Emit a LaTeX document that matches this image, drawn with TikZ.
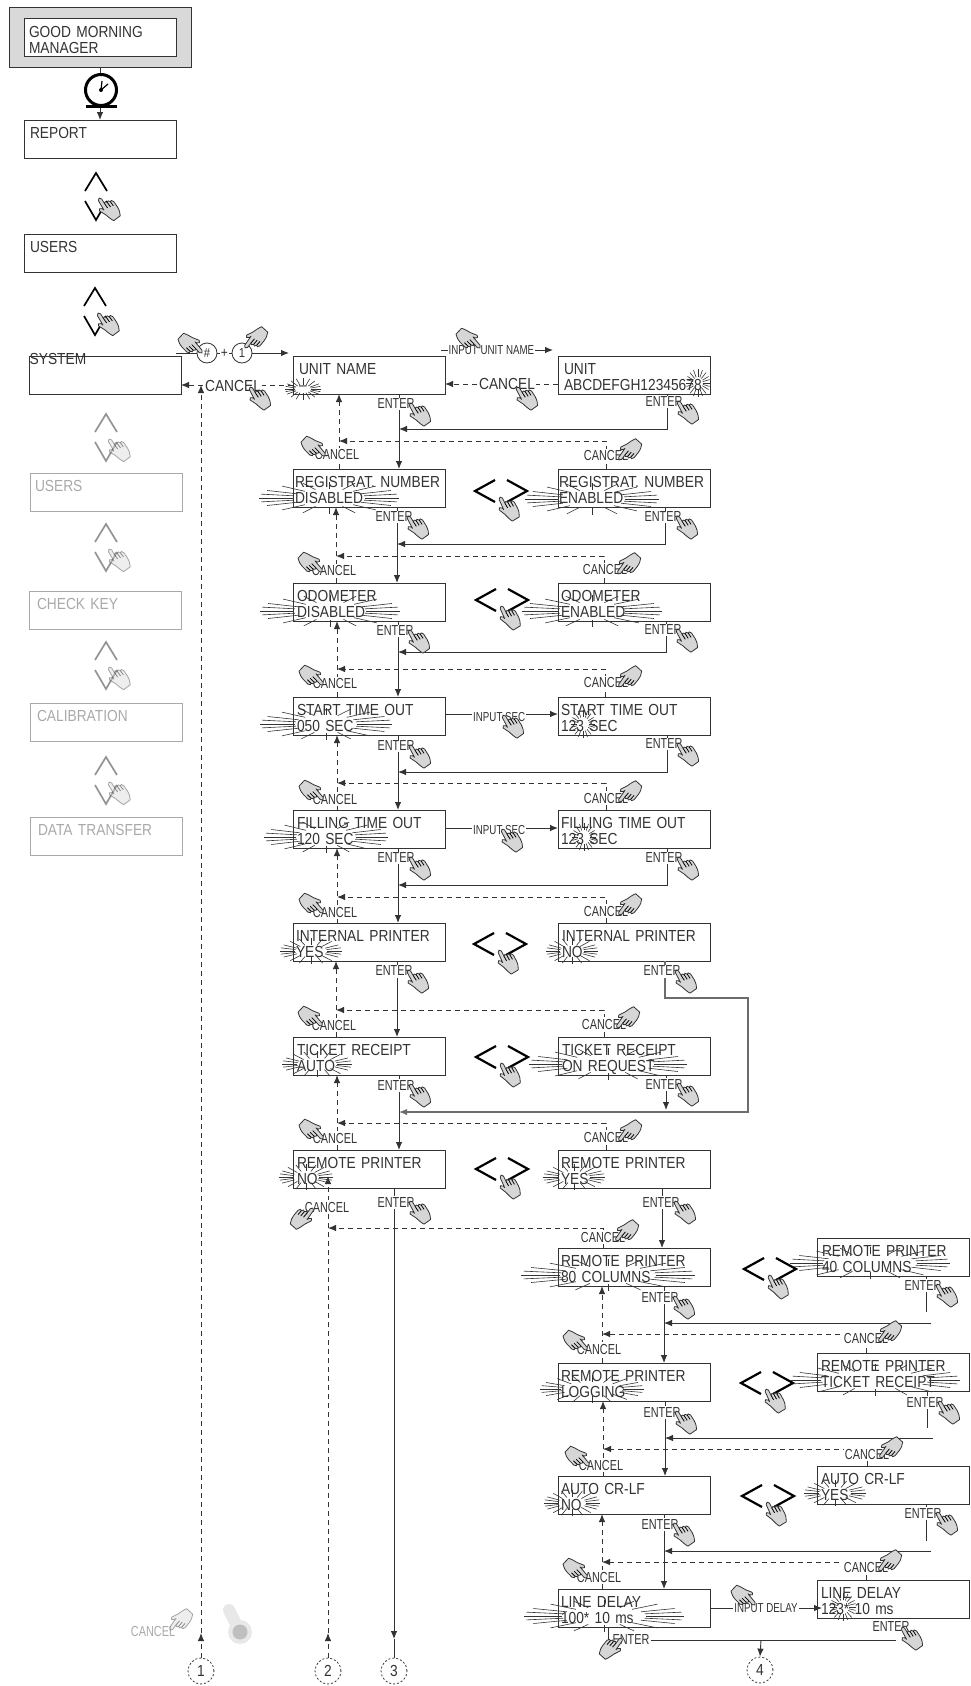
\documentclass[tikz,border=0pt]{standalone}
\usepackage{fontspec}
\usepackage{tikz}
\usetikzlibrary{arrows.meta}
\newfontfamily\lcdfont[FakeStretch=0.86]{Liberation Sans}
\newfontfamily\tagfont[FakeStretch=0.75]{Liberation Sans}
\definecolor{inkline}{gray}{0.2}
\tikzset{
  lcd/.style={rectangle,draw=inkline,line width=1pt,anchor=north west,outer sep=0pt,
    inner xsep=#1 pt,inner ysep=0pt,text width={152pt-2*#1pt},align=left,
    text height=18.7pt,text depth=19.3pt,text=inkline,
    font=\lcdfont\fontsize{16}{16}\selectfont},
  tag/.style={fill=white,inner xsep=1pt,inner ysep=1.5pt,text=inkline,
    font=\tagfont\fontsize{14.5}{14.5}\selectfont},
  smalltag/.style={fill=white,inner xsep=1pt,inner ysep=1pt,text=inkline,
    font=\tagfont\fontsize{13}{13}\selectfont},
  bigtag/.style={fill=white,inner xsep=1pt,inner ysep=1pt,text=inkline,
    font=\lcdfont\fontsize{16}{16}\selectfont},
  goal/.style={circle,draw=inkline,dash pattern=on 2pt off 2pt,line width=.8pt,minimum size=26pt,
    inner sep=0pt,text=inkline,font=\lcdfont\fontsize{16}{16}\selectfont},
  key/.style={circle,draw=inkline,line width=.8pt,fill=white,minimum size=20pt,
    inner sep=0pt,text=inkline,font=\lcdfont\fontsize{13}{13}\selectfont},
  flow/.style={color=inkline,line width=.9pt},
  backflow/.style={color=inkline,line width=.9pt,dash pattern=on 5pt off 4pt},
  pics/hand/.style={code={
    \draw[inkline,line width=.8pt,fill=gray!32,line join=round] (-1.8,2) .. controls (-1.8,-.5) and (1.8,-.5) .. (1.8,2)
      -- (2,7.5) .. controls (2.5,6) and (4.5,6) .. (5,8) .. controls (5.5,6.5) and (7.5,6.5) .. (8,9)
      .. controls (8.5,7.5) and (10.5,8) .. (11,10.5) -- (11.5,17) .. controls (11.5,21) and (11,23) .. (9.5,26)
      -- (1.5,27) .. controls (0,25) and (-1.5,21) .. (-2.5,18) -- (-6,11.5) .. controls (-6,9) and (-4,9) .. (-2.5,11)
      -- (-1.8,13) -- cycle;
    \draw[black,line width=.8pt] (2,7.5) -- (2.5,13) (5,8) -- (5.5,13.5) (8,9) -- (8.5,14);
  }},
  pics/flash/.style n args={4}{code={
    \foreach \a in {0,14,28,48,68,90,112,132,152,166,180,194,208,228,248,270,292,312,332,346}
      \draw[inkline,line width=.6pt] ({#1*cos(\a)},{#3*sin(\a)}) -- ({#2*cos(\a)},{#4*sin(\a)});
  }},
  pics/updown/.style={code={
    \draw[black,line width=1.7pt] (-11,-5) -- (0,-23) -- (11,-5);
    \draw[black,line width=1.7pt] (-11,5) -- (0,24) -- (11,5);
    \pic[rotate=30] at (3,2) {hand};
  }},
  pics/leftright/.style={code={
    \draw[black,line width=2.2pt] (-6,-11) -- (-26,0) -- (-6,11);
    \draw[black,line width=2.2pt] (6,-11) -- (26,0) -- (6,11);
    \pic[rotate=24] at (-1,6) {hand};
  }},
  pics/clock/.style={code={
    \draw[black,line width=3pt,fill=white] (0,0) circle (15.5);
    \draw[black,line width=1.2pt] (0,0) -- (1,-9) (0,0) -- (7,-6);
    \fill[black] (0,0) circle (2);
    \draw[black,line width=3pt] (-15,16.5) -- (16,16.5);
  }},
}
\newcommand{\EnterTag}[3]{\node[tag] (#1) at (#2,#3) {ENTER};}
\newcommand{\EnterHand}[2]{\pic[rotate=28] at (#1+14,#2-1) {hand};}
\newcommand{\CancelL}[3]{\node[tag] (#1) at (#2,#3) {CANCEL};}
\newcommand{\CancelLHand}[2]{\pic[rotate=220] at (#1-12,#2+1) {hand};}
\newcommand{\CancelRHand}[2]{\pic[rotate=145,xscale=-1] at (#1+13,#2+4) {hand};}
\begin{document}
\begin{tikzpicture}[x=1pt,y=-1pt,>={Latex[length=8pt,width=6.5pt]}]
\useasboundingbox (0,0) rectangle (970,1686);
% left column
\node (gmframe) [rectangle,draw=inkline,line width=1pt,fill=gray!30,minimum width=182pt,minimum height=60pt,outer sep=0pt] at (100,38) {};
\node (gm) [lcd=5,fill=white] at (24,19) {GOOD MORNING\\MANAGER};
\node (report) [lcd=6] at (24,120) {REPORT};
\node (users) [lcd=6] at (24,234) {USERS};
\node (system) [lcd=0] at (29,356) {~};
\node (systxt) at (58,359) [text=inkline,inner sep=0pt,font=\lcdfont\fontsize{16}{16}\selectfont] {SYSTEM};
\path[flow,->] (gmframe.south) edge (report.north);
\pic at (101,90) {clock};
\pic at (96,196) {updown};
\pic at (95,311) {updown};
\begin{scope}[opacity=.42]
\node (users2) [lcd=5] at (30,473) {USERS};
\node (check) [lcd=8] at (29,591) {CHECK KEY};
\node (calib) [lcd=7] at (30,703) {CALIBRATION};
\node (transfer) [lcd=8] at (30,817) {DATA TRANSFER};
\pic at (106,437) {updown};
\pic at (106,547) {updown};
\pic at (106,665) {updown};
\pic at (106,780) {updown};
\end{scope}
%
% boxes of the two main columns
\node (unitL) [lcd=6] at (293,356) {UNIT NAME\\–};
\node (unitR) [lcd=6] at (558,356) {UNIT\\ABCDEFGH12345678};
\node (regL) [lcd=2] at (293,469) {REGISTRAT. NUMBER\\DISABLED};
\node (regR) [lcd=1] at (558,469) {REGISTRAT. NUMBER\\ENABLED};
\node (odoL) [lcd=4] at (293,583) {ODOMETER\\DISABLED};
\node (odoR) [lcd=3] at (558,583) {ODOMETER\\ENABLED};
\node (startL) [lcd=4] at (293,697) {START TIME OUT\\050 SEC};
\node (startR) [lcd=3] at (558,697) {START TIME OUT\\123 SEC};
\node (fillL) [lcd=4] at (293,810) {FILLING TIME OUT\\120 SEC};
\node (fillR) [lcd=3] at (558,810) {FILLING TIME OUT\\123 SEC};
\node (intL) [lcd=3] at (293,923) {INTERNAL PRINTER\\YES};
\node (intR) [lcd=4] at (558,923) {INTERNAL PRINTER\\NO};
\node (ticL) [lcd=4] at (293,1037) {TICKET RECEIPT\\AUTO};
\node (ticR) [lcd=4] at (558,1037) {TICKET RECEIPT\\ON REQUEST};
\node (remL) [lcd=4] at (293,1150) {REMOTE PRINTER\\NO};
\node (remR) [lcd=3] at (558,1150) {REMOTE PRINTER\\YES};
\node (colL) [lcd=3] at (558,1248) {REMOTE PRINTER\\80 COLUMNS};
\node (colR) [lcd=5] at (817,1238) {REMOTE PRINTER\\40 COLUMNS};
\node (logL) [lcd=3] at (558,1363) {REMOTE PRINTER\\LOGGING};
\node (logR) [lcd=4] at (817,1353) {REMOTE PRINTER\\TICKET RECEIPT};
\node (crL) [lcd=3] at (558,1476) {AUTO CR-LF\\NO};
\node (crR) [lcd=4] at (817,1466) {AUTO CR-LF\\YES};
\node (delL) [lcd=3] at (558,1589) {LINE DELAY\\100* 10 ms};
\node (delR) [lcd=4] at (817,1580) {LINE DELAY\\123* 10 ms};
%
\node (goal1) [goal] at (201,1671) {1};
\node (goal2) [goal] at (328,1671) {2};
\node (goal3) [goal] at (394,1671) {3};
\node (goal4) [goal] at (760,1670) {4};
%
% junctions: j for the enter lines, k for the cancel lines
\coordinate (j0) at (399,429); \coordinate (k0) at (339,441);
\coordinate (j1) at (397,544); \coordinate (k1) at (336,556);
\coordinate (j2) at (398,652); \coordinate (k2) at (337,669);
\coordinate (j3) at (398,772); \coordinate (k3) at (337,783);
\coordinate (j4) at (398,885); \coordinate (k4) at (337,897);
\coordinate (j5) at (397,998); \coordinate (k5) at (336,1010);
\coordinate (j6) at (399,1112); \coordinate (k6) at (337,1123);
\coordinate (k7) at (328,1228);
\coordinate (j8) at (664,1323); \coordinate (k8) at (602,1334);
\coordinate (j9) at (665,1438); \coordinate (k9) at (603,1449);
\coordinate (j10) at (664,1551); \coordinate (k10) at (602,1562);
%
% enter lines
\path[flow,->] (unitL.south -| j0) edge (regL.north -| j0);
\draw[flow,->] ([xshift=33]unitR.south) |- (j0);
\path[flow,->] (regL.south -| j1) edge (odoL.north -| j1);
\draw[flow,->] ([xshift=31]regR.south) |- (j1);
\path[flow,->] (odoL.south -| j2) edge (startL.north -| j2);
\draw[flow,->] ([xshift=32]odoR.south) |- (j2);
\path[flow,->] (startL.south -| j3) edge (fillL.north -| j3);
\draw[flow,->] ([xshift=33]startR.south) |- (j3);
\path[flow,->] (fillL.south -| j4) edge (intL.north -| j4);
\draw[flow,->] ([xshift=33]fillR.south) |- (j4);
\path[flow,->] (intL.south -| j5) edge (ticL.north -| j5);
\coordinate (bendA) at (748,998);
\coordinate (bendB) at (748,1112);
\draw[flow,->,line width=1.3pt,color=gray!85!black] ([xshift=31]intR.south) |- (bendA) -- (bendB) -- (j6);
\path[flow,->] (ticL.south -| j6) edge (remL.north -| j6);
\coordinate (ticEnd) at (666,1110);
\draw[flow,->] (ticR.south -| ticEnd) -- (ticEnd);
\coordinate (tail3) at (394,1639);
\draw[flow,->] (remL.south -| tail3) -- (tail3);
\path[flow] (tail3) edge (goal3.north);
\path[flow,->] ([xshift=28]remR.south) edge ([xshift=28]colL.north);
\path[flow,->] (colL.south -| j8) edge (logL.north -| j8);
\coordinate (colEnd) at (926,1312);
\path[flow] (colR.south -| colEnd) edge (colEnd);
\coordinate (colBack) at (931,1323);
\path[flow,->] (colBack) edge (j8);
\path[flow,->] (logL.south -| j9) edge (crL.north -| j9);
\coordinate (logEnd) at (927,1428);
\path[flow] (logR.south -| logEnd) edge (logEnd);
\coordinate (logBack) at (933,1438);
\path[flow,->] (logBack) edge (j9);
\path[flow,->] (crL.south -| j10) edge (delL.north -| j10);
\coordinate (crEnd) at (926,1541);
\path[flow] (crR.south -| crEnd) edge (crEnd);
\coordinate (crBack) at (931,1551);
\path[flow,->] (crBack) edge (j10);
%
% cancel lines
\path[backflow,->] (regL.north -| k0) edge (unitL.south -| k0);
\draw[backflow,->] ([xshift=-28]regR.north) |- (k0);
\path[backflow,->] (odoL.north -| k1) edge (regL.south -| k1);
\draw[backflow,->] ([xshift=-30]odoR.north) |- (k1);
\path[backflow,->] (startL.north -| k2) edge (odoL.south -| k2);
\draw[backflow,->] ([xshift=-29]startR.north) |- (k2);
\path[backflow,->] (fillL.north -| k3) edge (startL.south -| k3);
\draw[backflow,->] ([xshift=-28]fillR.north) |- (k3);
\path[backflow,->] (intL.north -| k4) edge (fillL.south -| k4);
\draw[backflow,->] ([xshift=-28]intR.north) |- (k4);
\path[backflow,->] (ticL.north -| k5) edge (intL.south -| k5);
\draw[backflow,->] ([xshift=-30]ticR.north) |- (k5);
\path[backflow,->] (remL.north -| k6) edge (ticL.south -| k6);
\draw[backflow,->] ([xshift=-28]remR.north) |- (k6);
\draw[backflow,->] ([xshift=-31]colL.north) |- (k7);
\path[backflow,->] (logL.north -| k8) edge (colL.south -| k8);
\draw[backflow,->] ([xshift=-27]logR.north) |- (k8);
\path[backflow,->] (crL.north -| k9) edge (logL.south -| k9);
\draw[backflow,->] ([xshift=-26]crR.north) |- (k9);
\path[backflow,->] (delL.north -| k10) edge (crL.south -| k10);
\draw[backflow,->] ([xshift=-27]delR.north) |- (k10);
%
% returns to the numbered exits
\coordinate (tail1) at (201,1633);
\coordinate (back1) at (201,385);
\draw[backflow,->] (goal1.north) -- (tail1);
\draw[backflow,->] (tail1) -- (back1);
\coordinate (tail2) at (328,1633);
\coordinate (back2) at (328,1176);
\draw[backflow,->] (goal2.north) -- (tail2);
\draw[backflow,->] (tail2) -- (back2);
%
% first row
\coordinate (sysOut) at (176,353);
\coordinate (unitIn) at (289,353);
\node (hash) [key] at (207,353) {\#};
\node (one) [key] at (242,353) {1};
\path[flow] (sysOut) edge (hash);
\path[flow] (hash) edge node[fill=white,inner sep=.5pt,text=inkline,font=\lcdfont\fontsize{14}{14}\selectfont] (plus) {+} (one);
\path[flow,->] (one) edge (unitIn);
\coordinate (sysBack) at (293,385);
\draw[backflow,->] (sysBack) -- (system.east |- sysBack);
\node (cancelA) [bigtag] at (233,386) {CANCEL};
\coordinate (nameOut) at (441,350);
\coordinate (nameIn) at (553,350);
\path[flow,->] (nameOut) edge node[smalltag,pos=.45] (inputName) {INPUT UNIT NAME} (nameIn);
\draw[backflow,->] (unitR.west |- 0,384) -- (unitL.east |- 0,384);
\node (cancelB) [bigtag] at (507,384) {CANCEL};
\path[flow,->] (startL.east |- 0,714) edge node[smalltag,pos=.48,yshift=-3pt] (inputStart) {INPUT SEC} (startR.west |- 0,714);
\path[flow,->] (fillL.east |- 0,828) edge node[smalltag,pos=.48,yshift=-2pt] (inputFill) {INPUT SEC} (fillR.west |- 0,828);
\coordinate (delIn) at (822,1608);
\path[flow,->] (delL.east |- delIn) edge node[smalltag,pos=.5] (inputDelay) {INPUT DELAY} (delIn);
%
% last row
\coordinate (lastEnd) at (896,1640);
\coordinate (lastDown) at (761,1640);
\path[flow] ([xshift=-26]delL.south) edge ([xshift=-26,yshift=-13]delL.south);
\node (enterLast) [tag] at (631,1639) {ENTER};
\path[flow] (enterLast.east |- lastEnd) edge (lastEnd);
\path[flow,->] (lastDown) edge (goal4.north);
\node (enterDel) [tag] at (891,1626) {ENTER};
%
% enter labels
\EnterTag{e0}{396}{404} \EnterTag{f0}{664}{402}
\EnterTag{e1}{394}{517} \EnterTag{f1}{663}{517}
\EnterTag{e2}{395}{631} \EnterTag{f2}{663}{630}
\EnterTag{e3}{396}{746} \EnterTag{f3}{664}{744}
\EnterTag{e4}{396}{858} \EnterTag{f4}{664}{858}
\EnterTag{e5}{394}{971} \EnterTag{f5}{662}{971}
\EnterTag{e6}{396}{1085} \EnterTag{f6}{664}{1084}
\EnterTag{e7}{396}{1202} \EnterTag{f7}{661}{1202}
\EnterTag{e8}{660}{1297} \EnterTag{f8}{923}{1285}
\EnterTag{e9}{662}{1412} \EnterTag{f9}{925}{1402}
\EnterTag{e10}{660}{1524} \EnterTag{f10}{923}{1513}
%
% cancel labels
\CancelL{c0}{337}{455} \CancelL{d0}{606}{456}
\CancelL{c1}{334}{571} \CancelL{d1}{605}{570}
\CancelL{c2}{335}{684} \CancelL{d2}{606}{683}
\CancelL{c3}{335}{799} \CancelL{d3}{606}{798}
\CancelL{c4}{335}{912} \CancelL{d4}{606}{911}
\CancelL{c5}{334}{1025} \CancelL{d5}{604}{1024}
\CancelL{c6}{335}{1138} \CancelL{d6}{606}{1137}
\CancelL{c7}{327}{1207} \CancelL{d7}{603}{1237}
\CancelL{c8}{599}{1349} \CancelL{d8}{866}{1338}
\CancelL{c9}{601}{1465} \CancelL{d9}{867}{1454}
\CancelL{c10}{599}{1577} \CancelL{d10}{866}{1567}
%
% hands
\EnterHand{396}{404} \EnterHand{664}{402}
\EnterHand{394}{517} \EnterHand{663}{517}
\EnterHand{395}{631} \EnterHand{663}{630}
\EnterHand{396}{746} \EnterHand{664}{744}
\EnterHand{396}{858} \EnterHand{664}{858}
\EnterHand{394}{971} \EnterHand{662}{971}
\EnterHand{396}{1085} \EnterHand{664}{1084}
\EnterHand{396}{1202} \EnterHand{661}{1202}
\EnterHand{660}{1297} \EnterHand{923}{1285}
\EnterHand{662}{1412} \EnterHand{925}{1402}
\EnterHand{660}{1524} \EnterHand{923}{1513}
\EnterHand{888}{1628}
\CancelLHand{337}{455} \CancelRHand{606}{456}
\CancelLHand{334}{571} \CancelRHand{605}{570}
\CancelLHand{335}{684} \CancelRHand{606}{683}
\CancelLHand{335}{799} \CancelRHand{606}{798}
\CancelLHand{335}{912} \CancelRHand{606}{911}
\CancelLHand{334}{1025} \CancelRHand{604}{1024}
\CancelLHand{335}{1138} \CancelRHand{606}{1137}
\pic[rotate=-35,xscale=-1] at (313,1208) {hand};
\CancelRHand{603}{1237}
\CancelLHand{599}{1349} \CancelRHand{866}{1338}
\CancelLHand{601}{1465} \CancelRHand{867}{1454}
\CancelLHand{599}{1577} \CancelRHand{866}{1567}
\pic[rotate=220] at (202,353) {hand};
\pic[rotate=145,xscale=-1] at (245,348) {hand};
\pic[rotate=28] at (250,387) {hand};
\pic[rotate=220] at (480,348) {hand};
\pic[rotate=28] at (517,387) {hand};
\pic[rotate=28] at (503,715) {hand};
\pic[rotate=28] at (502,829) {hand};
\pic[rotate=220] at (755,1605) {hand};
\pic[rotate=-35,xscale=-1] at (622,1638) {hand};
%
% arrows between alternative settings
\pic at (501,491) {leftright};
\pic at (502,600) {leftright};
\pic at (500,944) {leftright};
\pic at (502,1057) {leftright};
\pic at (502,1169) {leftright};
\pic at (770,1269) {leftright};
\pic at (767,1383) {leftright};
\pic at (768,1496) {leftright};
%
% blinking fields
\pic at (303,389) {flash={8}{18}{4}{11}};
\pic at (698,383) {flash={5}{12}{6}{14}};
\pic at (329,498) {flash={36}{70}{9}{16}};
\pic at (592,499) {flash={33}{67}{9}{16}};
\pic at (330,611) {flash={36}{70}{9}{16}};
\pic at (592,611) {flash={33}{70}{9}{16}};
\pic at (326,724) {flash={31}{66}{9}{16}};
\pic at (583,724) {flash={6}{12}{7}{14}};
\pic at (326,837) {flash={30}{62}{9}{16}};
\pic at (584,837) {flash={6}{12}{7}{14}};
\pic at (311,951) {flash={16}{31}{6}{13}};
\pic at (572,951) {flash={12}{26}{6}{13}};
\pic at (317,1064) {flash={20}{35}{6}{13}};
\pic at (608,1064) {flash={46}{79}{9}{16}};
\pic at (306,1177) {flash={13}{27}{6}{13}};
\pic at (574,1177) {flash={16}{31}{6}{13}};
\pic at (608,1275) {flash={48}{87}{9}{16}};
\pic at (870,1263) {flash={47}{80}{9}{16}};
\pic at (592,1389) {flash={31}{52}{7}{14}};
\pic at (875,1380) {flash={54}{85}{9}{16}};
\pic at (572,1503) {flash={14}{28}{6}{13}};
\pic at (835,1493) {flash={16}{31}{6}{13}};
\pic at (604,1616) {flash={42}{80}{9}{16}};
\pic at (843,1607) {flash={6}{13}{7}{14}};
%
% key switch
\begin{scope}[opacity=.42]
\node (cancelKey) [tag,fill=none] at (153,1631) {CANCEL};
\pic[rotate=145,xscale=-1] at (170,1630) {hand};
\end{scope}
\draw[gray!18,line width=12pt,line cap=round] (229,1610) -- (240,1632);
\fill[gray!18] (240,1632) circle (12);
\fill[gray!50] (240,1632) circle (7.5);
\end{tikzpicture}
\end{document}
